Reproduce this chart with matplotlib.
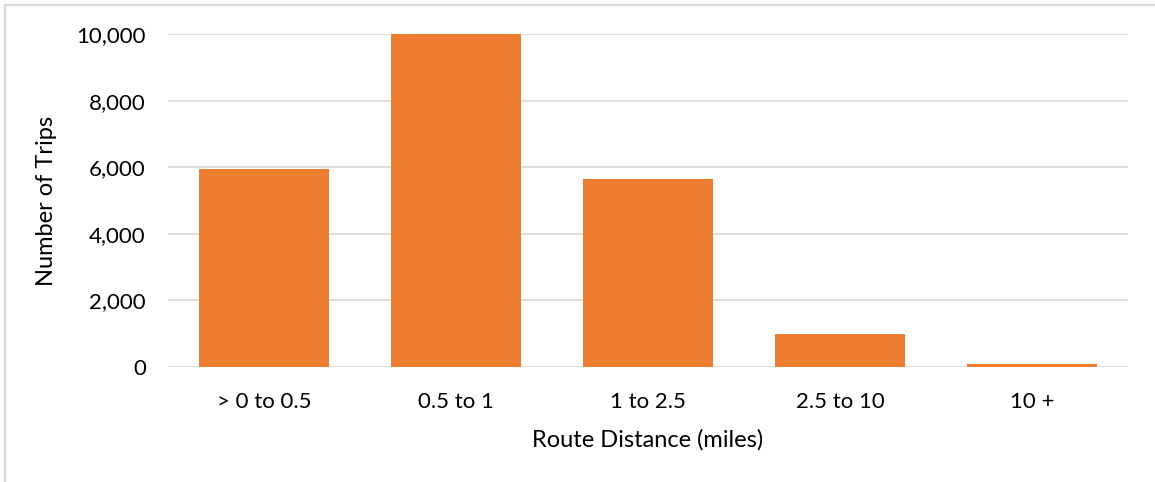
import numpy as np
import matplotlib.pyplot as plt
from matplotlib.lines import Line2D
from matplotlib.ticker import FuncFormatter

plt.rcParams['font.family'] = ['Lato', 'DejaVu Sans']

# trips per route-distance bin
categories = ['> 0 to 0.5', '0.5 to 1', '1 to 2.5', '2.5 to 10', '10 +']
trips = [5950, 10000, 5650, 980, 100]

W, H = 1155, 482
fig = plt.figure(figsize=(W / 100, H / 100), dpi=100)
# axes box in pixels: left 168, right 1128, top 34, bottom 367
ax = fig.add_axes([168 / W, 1 - 367 / H, 960 / W, 333 / H])

x = np.arange(len(categories))
ax.bar(x, trips, width=0.677, color='#ED7D31', zorder=3)

ax.set_xlim(-0.5, len(categories) - 0.5)
ax.set_ylim(0, 10000)
ax.set_yticks(np.arange(0, 10001, 2000))
ax.yaxis.set_major_formatter(FuncFormatter(lambda v, p: f'{int(v):,}'))
ax.grid(axis='y', color='#D9D9D9', linewidth=1.2, zorder=0)
ax.set_xticks(x)
ax.set_xticklabels(categories)

for s in ax.spines.values():
    s.set_visible(False)
ax.tick_params(axis='both', length=0, labelsize=16, colors='black')
ax.tick_params(axis='x', pad=18)
ax.tick_params(axis='y', pad=16)

ax.set_xlabel('Route Distance (miles)', fontsize=17, labelpad=12)
ax.set_ylabel('Number of Trips', fontsize=17, labelpad=14)

# outer chart frame (left and top edges)
fig.add_artist(Line2D([5 / W, 5 / W], [0, 1 - 5 / H], transform=fig.transFigure,
                      color='#D9D9D9', linewidth=1.5))
fig.add_artist(Line2D([5 / W, 1], [1 - 5 / H, 1 - 5 / H], transform=fig.transFigure,
                      color='#D9D9D9', linewidth=1.5))

fig.savefig('out.png', dpi=100, facecolor='white')
